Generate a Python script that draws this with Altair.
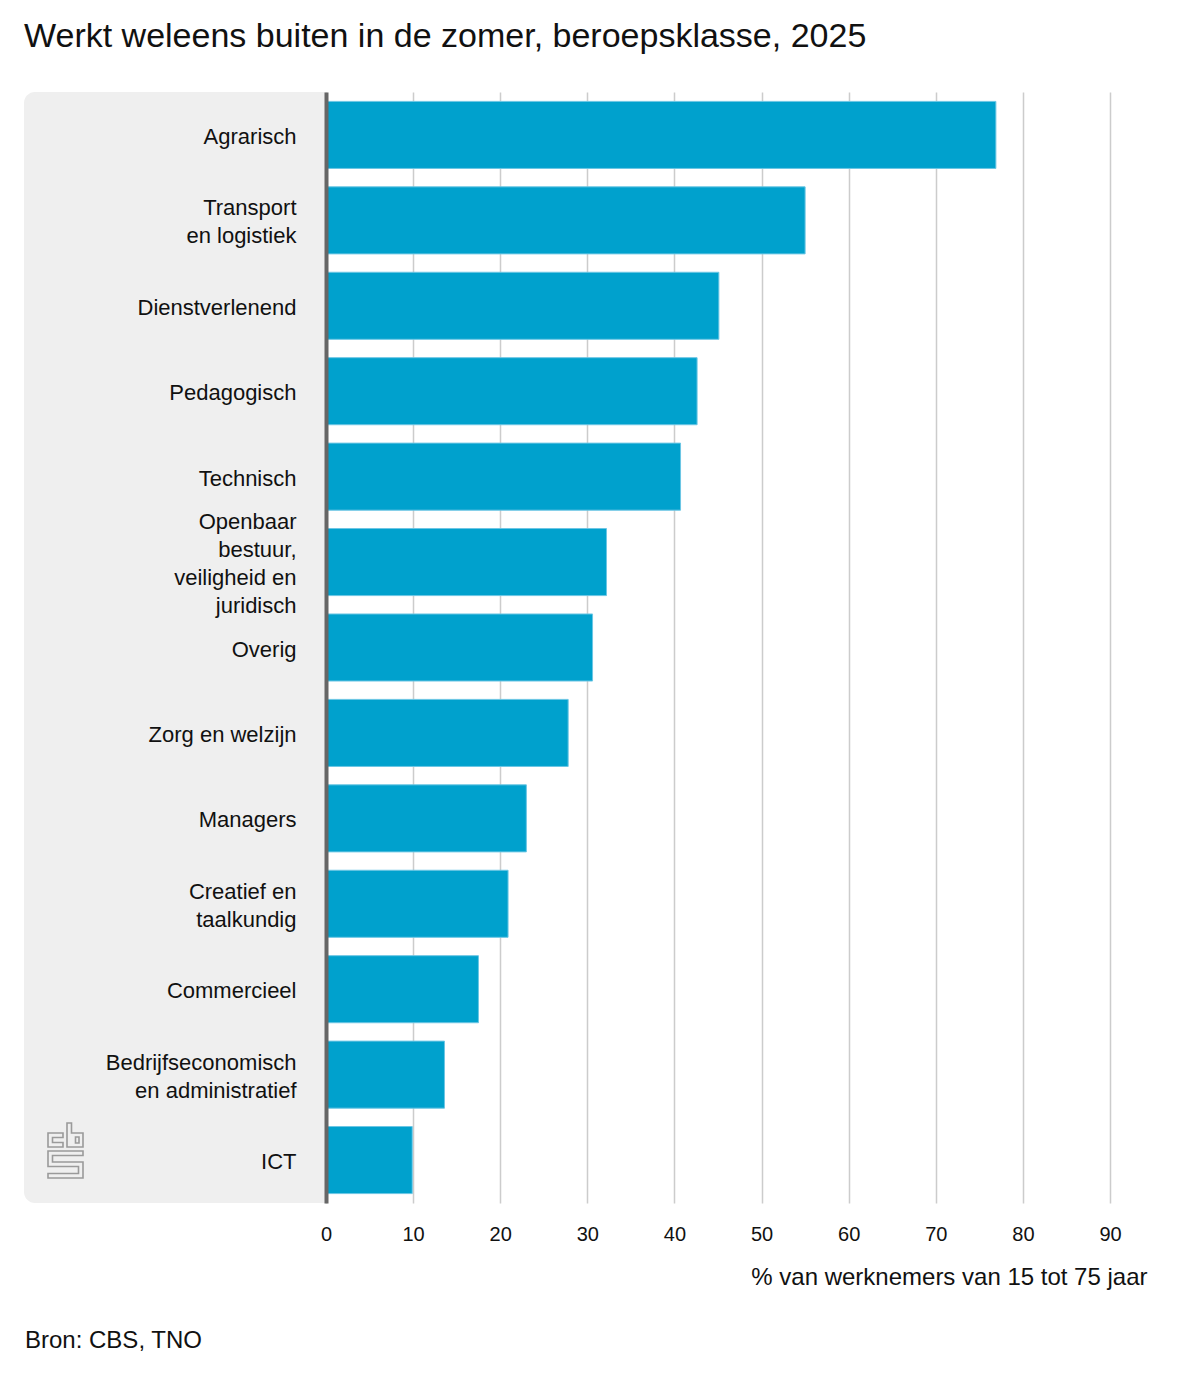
import base64
import altair as alt
import pandas as pd

categories = [
    "Agrarisch",
    "Transport\nen logistiek",
    "Dienstverlenend",
    "Pedagogisch",
    "Technisch",
    "Openbaar\nbestuur,\nveiligheid en\njuridisch",
    "Overig",
    "Zorg en welzijn",
    "Managers",
    "Creatief en\ntaalkundig",
    "Commercieel",
    "Bedrijfseconomisch\nen administratief",
    "ICT",
]
values = [76.9, 55.0, 45.1, 42.6, 40.7, 32.2, 30.6, 27.8, 23.0, 20.9, 17.5, 13.6, 9.9]
x_ticks = [0, 10, 20, 30, 40, 50, 60, 70, 80, 90]

title_text = "Werkt weleens buiten in de zomer, beroepsklasse, 2025"
x_title = "% van werknemers van 15 tot 75 jaar"
source_text = "Bron: CBS, TNO"

FONT = "Liberation Sans, Arial, Helvetica, sans-serif"
BLUE = "#00A1CD"

W = 784
H = 1111
LH = 28

df = pd.DataFrame({"beroepsklasse": categories, "waarde": values})

# cbs logo (decoration)
logo_svg = (
    '<svg xmlns="http://www.w3.org/2000/svg" width="38" height="58" viewBox="-1 -1 38 58">'
    '<g fill="none" stroke="#9a9a9a" stroke-width="1.6">'
    '<path d="M0 11 H15 V15.5 H4.5 V20.5 H15 V25 H0 Z"/>'
    '<path d="M19 1 H23.5 V11 H35 V25 H19 Z"/>'
    '<path d="M27.5 15 H31 V21 H27.5 Z"/>'
    '<path d="M0 29 H35 V33.5 H4.5 V40 H35 V56 H0 V51.5 H30.5 V44.5 H0 Z"/>'
    '</g></svg>'
)
logo_uri = "data:image/svg+xml;base64," + base64.b64encode(logo_svg.encode()).decode()

one = alt.Data(values=[{"k": 0}])

panel = alt.Chart(one).mark_rect(
    color="#efefef", cornerRadiusTopLeft=11, cornerRadiusBottomLeft=11
).encode(
    x=alt.value(-302), x2=alt.value(0), y=alt.value(0), y2=alt.value(H)
)

nlines = "length(split(datum.value, '\\n'))"
label_offset = {
    "condition": [
        {"test": f"{nlines} == 2", "value": 2 - LH / 2},
        {"test": f"{nlines} == 3", "value": 2 - LH},
        {"test": f"{nlines} == 4", "value": 2 - 1.5 * LH},
    ],
    "value": 2,
}

bars = alt.Chart(df).mark_bar(
    color=BLUE, stroke="#6cc6e4", strokeWidth=1
).encode(
    y=alt.Y(
        "beroepsklasse:N",
        sort=categories,
        scale=alt.Scale(paddingInner=0.215, paddingOuter=0.11),
        axis=alt.Axis(
            title=None,
            ticks=False,
            domain=True,
            domainColor="#666666",
            domainWidth=4,
            labelFontSize=22,
            labelFont=FONT,
            labelColor="#111111",
            labelLineHeight=LH,
            labelLimit=400,
            labelPadding=30,
            labelOffset=label_offset,
            labelExpr="split(datum.label, '\\n')",
            grid=False,
            zindex=1,
        ),
    ),
    x=alt.X(
        "waarde:Q",
        scale=alt.Scale(domain=[0, 90], nice=False),
        axis=alt.Axis(
            values=x_ticks,
            title=x_title,
            titleFont=FONT,
            titleFontSize=24,
            titleFontWeight="normal",
            titleColor="#111111",
            titleAlign="right",
            titleAnchor="end",
            titleBaseline="alphabetic",
            titleX=821,
            titleY=81,
            ticks=False,
            domain=False,
            grid=True,
            gridColor="#cccccc",
            gridWidth=1.5,
            labelFontSize=20,
            labelFont=FONT,
            labelColor="#111111",
            labelPadding=21,
            labelFlush=False,
        ),
    ),
)

logo = alt.Chart(one).mark_image(width=38, height=58, align="left", baseline="top").encode(
    x=alt.value(-279), y=alt.value(1029), url=alt.value(logo_uri)
)

source = alt.Chart(one).mark_text(
    text=source_text, align="left", baseline="alphabetic", fontSize=24, font=FONT, color="#111111"
).encode(x=alt.value(-301), y=alt.value(1256))

chart = alt.layer(panel, bars, logo, source).properties(
    width=W,
    height=H,
    background="white",
    title=alt.TitleParams(
        text=title_text,
        anchor="start",
        frame="bounds",
        fontSize=34,
        fontWeight="normal",
        font=FONT,
        color="#111111",
        offset=38,
    ),
    padding={"left": 16, "top": 12, "right": 10, "bottom": 10},
).configure_view(stroke=None)

chart.save("out.html", embed_options={"renderer": "svg", "actions": False})
